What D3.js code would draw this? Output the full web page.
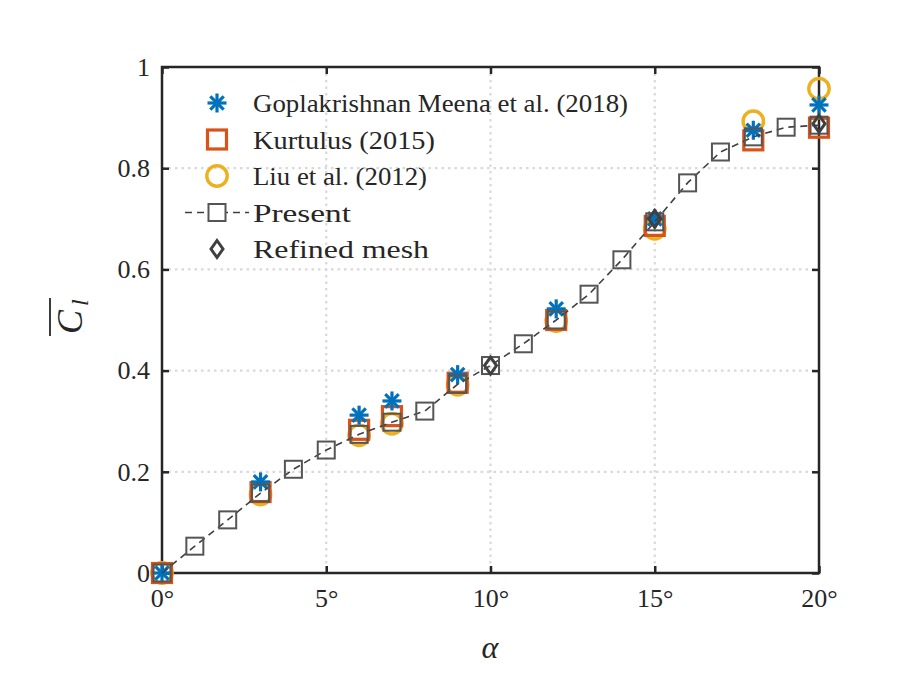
<!DOCTYPE html>
<html lang="en">
<head>
  <meta charset="utf-8">
  <title>Lift coefficient vs angle of attack</title>
  <style>
    body { margin: 0; background: #fff; }
    text { font-family: "Liberation Serif", "DejaVu Serif", serif; fill: #262626; }
  </style>
</head>
<body>
  <script src="https://cdn.jsdelivr.net/npm/d3@7/dist/d3.min.js"></script>
  <script>
    // series
    var presentAlpha = [0, 1, 2, 3, 4, 5, 6, 7, 8, 9, 10, 11, 12, 13, 14, 15, 16, 17, 18, 19, 20];
    var presentCl = [0, 0.053, 0.105, 0.158, 0.205, 0.243, 0.274, 0.298, 0.32, 0.373, 0.41, 0.453, 0.5, 0.551, 0.619, 0.694, 0.771, 0.832, 0.862, 0.881, 0.885];

    var gopAlpha = [0, 3, 6, 7, 9, 12, 15, 18, 20];
    var gopCl = [0, 0.18, 0.312, 0.34, 0.392, 0.522, 0.70, 0.875, 0.925];

    var kurAlpha = [0, 3, 6, 7, 9, 12, 15, 18, 20];
    var kurCl = [0, 0.16, 0.283, 0.31, 0.376, 0.50, 0.686, 0.855, 0.88];

    var liuAlpha = [0, 3, 6, 7, 9, 12, 15, 18, 20];
    var liuCl = [0, 0.155, 0.272, 0.295, 0.372, 0.498, 0.68, 0.893, 0.957];

    var refAlpha = [10, 15, 20];
    var refCl = [0.41, 0.70, 0.888];

    var xTicks = [0, 5, 10, 15, 20];
    var yTicks = [0, 0.2, 0.4, 0.6, 0.8, 1];
    var legendLabels = ["Goplakrishnan Meena et al. (2018)", "Kurtulus (2015)", "Liu et al. (2012)", "Present", "Refined mesh"];

    var width = 900, height = 675;
    var padL = 162, padR = 819, padT = 67, padB = 573;
    var blue = "#0072BD", red = "#D95319", yellow = "#EDB120", grey = "#404040";

    var svg = d3.select("body").append("svg")
      .attr("width", width)
      .attr("height", height);

    var x = d3.scaleLinear().domain([0, 20]).range([padL, padR]);
    var y = d3.scaleLinear().domain([0, 1]).range([padB, padT]);

    function zip(a, b) {
      return a.map(function(v, i) { return [v, b[i]]; });
    }

    // grid
    svg.append("g").selectAll("line")
      .data(xTicks.slice(1, -1))
      .enter().append("line")
      .attr("x1", function(d) { return x(d); })
      .attr("x2", function(d) { return x(d); })
      .attr("y1", padT).attr("y2", padB)
      .attr("stroke", "#d9d9d9").attr("stroke-width", 2.2)
      .attr("stroke-dasharray", "2.5,4");
    svg.append("g").selectAll("line")
      .data(yTicks.slice(1, -1))
      .enter().append("line")
      .attr("y1", function(d) { return y(d); })
      .attr("y2", function(d) { return y(d); })
      .attr("x1", padL).attr("x2", padR)
      .attr("stroke", "#d9d9d9").attr("stroke-width", 2.2)
      .attr("stroke-dasharray", "2.5,4");

    // axes with inward ticks on all sides
    var xAxis = d3.axisBottom(x).tickValues(xTicks).tickSize(-7).tickPadding(16)
      .tickFormat(function(d) { return d + "°"; });
    var yAxis = d3.axisLeft(y).tickValues(yTicks).tickSize(-7).tickPadding(12)
      .tickFormat(function(d) { return d; });

    var gx = svg.append("g").attr("transform", "translate(0," + padB + ")").call(xAxis);
    var gy = svg.append("g").attr("transform", "translate(" + padL + ",0)").call(yAxis);
    var gxt = svg.append("g").attr("transform", "translate(0," + padT + ")")
      .call(d3.axisTop(x).tickValues(xTicks).tickSize(-7).tickFormat(""));
    var gyr = svg.append("g").attr("transform", "translate(" + padR + ",0)")
      .call(d3.axisRight(y).tickValues(yTicks).tickSize(-7).tickFormat(""));

    [gx, gy, gxt, gyr].forEach(function(g) {
      g.select(".domain").remove();
      g.selectAll(".tick line").attr("stroke", "#262626").attr("stroke-width", 2.5);
      g.selectAll("text").style("font-size", "26px").attr("fill", "#262626");
    });
    gx.selectAll("text").attr("dy", "0.71em");

    svg.append("rect")
      .attr("x", padL).attr("y", padT)
      .attr("width", padR - padL).attr("height", padB - padT)
      .attr("fill", "none").attr("stroke", "#262626").attr("stroke-width", 2.5);

    // marker painters
    function circle(g, cx, cy) {
      g.append("circle").attr("cx", cx).attr("cy", cy).attr("r", 10.2)
        .attr("fill", "none").attr("stroke", yellow).attr("stroke-width", 3.4);
    }
    function square(g, cx, cy, s, col, w) {
      g.append("rect").attr("x", cx - s / 2).attr("y", cy - s / 2)
        .attr("width", s).attr("height", s)
        .attr("fill", "none").attr("stroke", col).attr("stroke-width", w);
    }
    function star(g, cx, cy) {
      var r = 9.5, k = r * 0.7071;
      var segs = [[-r, 0, r, 0], [0, -r, 0, r], [-k, -k, k, k], [-k, k, k, -k]];
      segs.forEach(function(s) {
        g.append("line")
          .attr("x1", cx + s[0]).attr("y1", cy + s[1])
          .attr("x2", cx + s[2]).attr("y2", cy + s[3])
          .attr("stroke", blue).attr("stroke-width", 3.2);
      });
    }
    function diamond(g, cx, cy) {
      var w = 6, h = 8.5;
      g.append("path")
        .attr("d", "M" + cx + "," + (cy - h) + "L" + (cx + w) + "," + cy + "L" + cx + "," + (cy + h) + "L" + (cx - w) + "," + cy + "Z")
        .attr("fill", "none").attr("stroke", grey).attr("stroke-width", 3);
    }

    var plot = svg.append("g");

    zip(liuAlpha, liuCl).forEach(function(d) { circle(plot, x(d[0]), y(d[1])); });
    zip(kurAlpha, kurCl).forEach(function(d) { square(plot, x(d[0]), y(d[1]), 19, red, 3.2); });
    zip(gopAlpha, gopCl).forEach(function(d) { star(plot, x(d[0]), y(d[1])); });

    var line = d3.line()
      .x(function(d) { return x(d[0]); })
      .y(function(d) { return y(d[1]); });
    plot.append("path")
      .datum(zip(presentAlpha, presentCl))
      .attr("d", line)
      .attr("fill", "none").attr("stroke", grey).attr("stroke-width", 1.6)
      .attr("stroke-dasharray", "7,5");
    zip(presentAlpha, presentCl).forEach(function(d) {
      square(plot, x(d[0]), y(d[1]), 17, "#555555", 2);
    });
    zip(refAlpha, refCl).forEach(function(d) { diamond(plot, x(d[0]), y(d[1])); });

    // legend
    var legend = svg.append("g");
    var lx = 217, ly0 = 103, dy = 36.5;
    var textLen = [375, 182, 174, 98, 176];
    legendLabels.forEach(function(t, i) {
      var cy = ly0 + i * dy;
      if (i === 0) star(legend, lx, cy);
      if (i === 1) square(legend, lx, cy, 19, red, 3.2);
      if (i === 2) circle(legend, lx, cy);
      if (i === 3) {
        legend.append("line").attr("x1", 185).attr("x2", 249)
          .attr("y1", cy).attr("y2", cy)
          .attr("stroke", grey).attr("stroke-width", 1.6).attr("stroke-dasharray", "7,5");
        legend.append("rect").attr("x", lx - 9).attr("y", cy - 9).attr("width", 18).attr("height", 18)
          .attr("fill", "#fff");
        square(legend, lx, cy, 17, "#555555", 2);
      }
      if (i === 4) diamond(legend, lx, cy);
      legend.append("text")
        .attr("x", 253).attr("y", cy)
        .attr("dy", "0.35em")
        .attr("textLength", textLen[i])
        .attr("lengthAdjust", "spacingAndGlyphs")
        .style("font-size", "26px")
        .text(t);
    });

    // axis titles
    svg.append("text")
      .attr("x", 490).attr("y", 658)
      .attr("text-anchor", "middle")
      .style("font-size", "32px").style("font-style", "italic")
      .text("α");

    var yl = svg.append("g").attr("transform", "translate(82,318) rotate(-90)");
    yl.append("text")
      .attr("x", -4)
      .attr("text-anchor", "middle")
      .style("font-size", "36px").style("font-style", "italic")
      .text("C");
    yl.append("text")
      .attr("x", 12).attr("y", 6)
      .style("font-size", "24px").style("font-style", "italic")
      .text("l");
    yl.append("line")
      .attr("x1", -18).attr("x2", 20).attr("y1", -32).attr("y2", -32)
      .attr("stroke", "#262626").attr("stroke-width", 1.8);
  </script>
</body>
</html>
